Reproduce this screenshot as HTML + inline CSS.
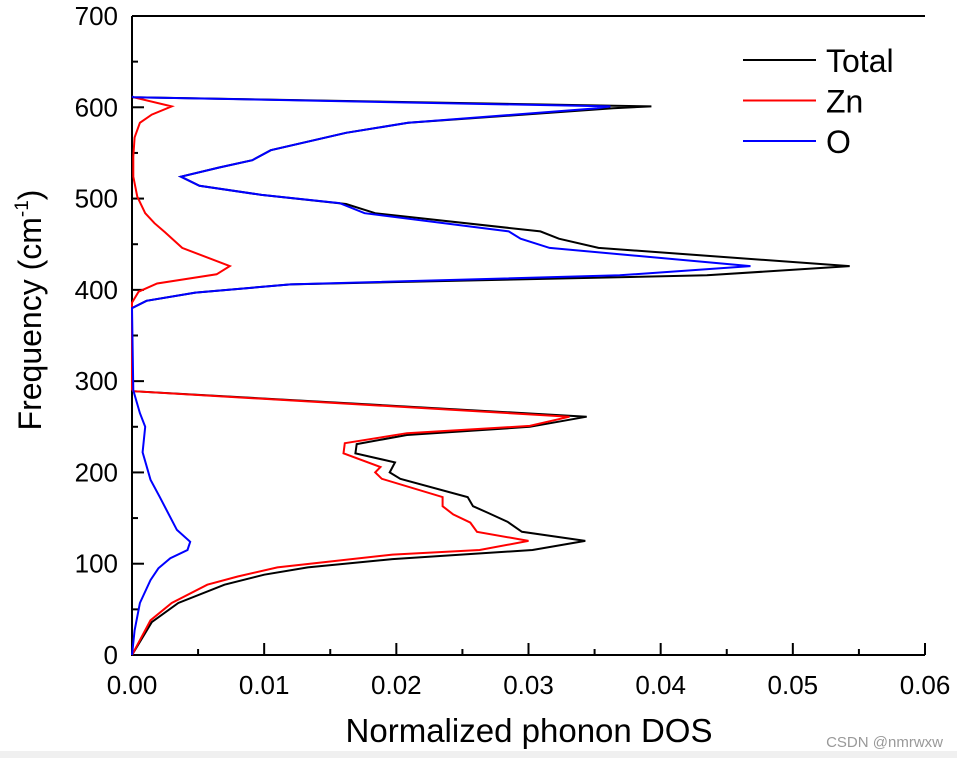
<!DOCTYPE html>
<html><head><meta charset="utf-8"><style>
body{margin:0;background:#fff;width:957px;height:758px;overflow:hidden}
text{font-family:"Liberation Sans",Arial,sans-serif}
</style></head><body>
<svg id="chart" width="957" height="758" viewBox="0 0 957 758" xmlns="http://www.w3.org/2000/svg">
<rect x="0" y="751" width="957" height="7" fill="#f0f0f0"/>
<g id="axes"></g>
<g id="series"></g>
<g id="legend"></g>
<text x="529" y="742" font-size="33" text-anchor="middle" textLength="367" lengthAdjust="spacingAndGlyphs">Normalized phonon DOS</text>
<text transform="translate(41,310) rotate(-90)" font-size="32" text-anchor="middle">Frequency (cm<tspan dy="-13" font-size="19">-1</tspan><tspan dy="13">)</tspan></text>
<text x="943" y="747" font-size="15" fill="#999" text-anchor="end">CSDN @nmrwxw</text>
</svg>
<script>
const xTicks=[0,0.01,0.02,0.03,0.04,0.05,0.06];
const xTickLabels=["0.00","0.01","0.02","0.03","0.04","0.05","0.06"];
const yTicks=[0,100,200,300,400,500,600,700];
const seriesNames=["Total","Zn","O"];
const seriesColors=["#000","#ff0000","#0000ff"];
const totalFreq=[0,36,57,77,88,96,105,115,125,135,146,156,163,173,193,200,211,221,231,241,250,261,289,291,380,388,397,406,416,426,446,456,464,484,494,504,514,524,534,542,553,572,583,599,601,611,612];
const totalDos=[0,.0015,.0035,.007,.01,.0133,.0197,.0303,.0343,.0295,.0284,.0269,.0258,.0254,.0203,.0195,.0199,.0169,.017,.0208,.0301,.0344,.0001,0,0,.0011,.0048,.012,.0435,.0543,.0353,.0323,.0309,.0184,.0162,.0098,.0051,.0037,.0066,.0091,.0105,.0162,.0209,.0364,.0393,.0001,0];
const znFreq=[0,38,57,77,86,96,110,115,125,135,145,154,163,173,193,200,206,221,232,243,251,261,289,291,380,386,398,407,417,426,446,463,473,484,502,524,546,567,583,592,601,611,612];
const znDos=[0,.0014,.003,.0057,.008,.011,.0197,.0263,.03,.0261,.0256,.0243,.0235,.0235,.0189,.0184,.0188,.016,.0161,.0208,.0301,.0331,.0001,0,0,0,.0005,.0019,.0064,.0074,.0038,.0025,.0017,.001,.0004,.0001,.0001,.0002,.0006,.0015,.003,.0001,0];
const oFreq=[0,27,57,82,95,106,115,124,137,173,192,222,250,265,290,380,388,397,406,416,426,446,456,464,484,495,504,514,524,534,542,553,572,583,599,601,611,612];
const oDos=[0,.0002,.0006,.0014,.002,.0029,.0042,.0044,.0034,.0021,.0014,.0008,.001,.0006,.0001,0,.0011,.0048,.012,.0369,.0468,.0316,.0294,.0285,.0176,.0157,.0098,.0051,.0037,.0066,.0091,.0105,.0162,.0209,.0352,.0362,.0001,0];

const X0=132,X1=925,Y0=655,Y1=16;
const xs=v=>X0+v/0.06*(X1-X0);
const ys=f=>Y0-f/700*(Y0-Y1);
const NS="http://www.w3.org/2000/svg";
function mk(tag,parent,attrs){const e=document.createElementNS(NS,tag);for(const k in attrs)e.setAttribute(k,attrs[k]);parent.appendChild(e);return e;}
const axes=document.getElementById('axes');
const frame=mk('path',axes,{d:`M${X0},${Y1} L${X0},${Y0} L${X1},${Y0} M${X0},${Y1} L${X1},${Y1}`,fill:'none',stroke:'#000','stroke-width':2});


xTicks.forEach((v,i)=>{
  const t=mk('line',axes,{x1:xs(v),x2:xs(v),y1:Y0,y2:Y0-12,stroke:'#000','stroke-width':2});
  
  
  if(i<xTicks.length-1){const m=mk('line',axes,{x1:xs(v+0.005),x2:xs(v+0.005),y1:Y0,y2:Y0-6,stroke:'#000','stroke-width':2});
  
  }
  const l=mk('text',axes,{x:xs(v),y:Y0+39,'font-size':26,'text-anchor':'middle'});l.textContent=xTickLabels[i];
  
  
});
yTicks.forEach((f,i)=>{
  const t=mk('line',axes,{x1:X0,x2:X0+12,y1:ys(f),y2:ys(f),stroke:'#000','stroke-width':2});
  
  
  if(i<yTicks.length-1){const m=mk('line',axes,{x1:X0,x2:X0+6,y1:ys(f+50),y2:ys(f+50),stroke:'#000','stroke-width':2});
  
  }
  const l=mk('text',axes,{x:X0-14,y:ys(f)+9,'font-size':26,'text-anchor':'end'});l.textContent=String(f);
  
  
});
const ser=document.getElementById('series');
const data=[[totalFreq,totalDos],[znFreq,znDos],[oFreq,oDos]];
[0,1,2].forEach(k=>{
  const [F,V]=data[k];
  const d=F.map((f,i)=>(i?'L':'M')+xs(V[i]).toFixed(1)+','+ys(f).toFixed(1)).join(' ');
  const p=mk('path',ser,{d:d,fill:'none',stroke:seriesColors[k],'stroke-width':2,'stroke-linejoin':'miter'});
  
  
});
const leg=document.getElementById('legend');
seriesNames.forEach((n,i)=>{
  const y=60+i*40.5;
  const l=mk('line',leg,{x1:743,x2:816,y1:y,y2:y,stroke:seriesColors[i],'stroke-width':2});
  
  
  const t=mk('text',leg,{x:826,y:y+12,'font-size':32});t.textContent=n;
  
  
});
</script>
</body></html>
